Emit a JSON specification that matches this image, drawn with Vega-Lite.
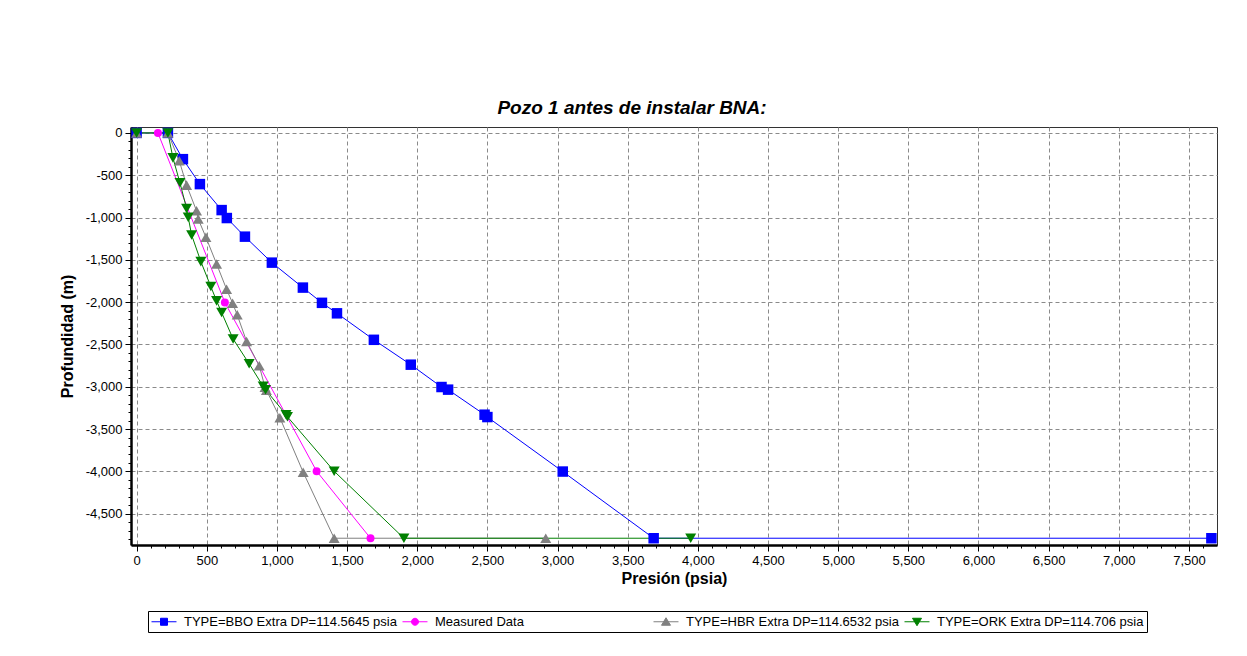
{
  "$schema": "https://vega.github.io/schema/vega-lite/v6.json",
  "width": 1086,
  "height": 418,
  "autosize": {"type": "none"},
  "padding": {"left": 131, "top": 127, "right": 30, "bottom": 111},
  "background": "white",
  "title": {"text": "Pozo 1 antes de instalar BNA:", "anchor": "middle", "dx": -42, "offset": 9, "font": "Liberation Sans", "fontSize": 19, "fontWeight": "bold", "fontStyle": "italic", "color": "black"},
  "config": {
    "view": {"stroke": "#333333", "strokeWidth": 1, "fill": "white"},
    "axis": {"labelFont": "Liberation Sans", "titleFont": "Liberation Sans", "labelColor": "black", "titleColor": "black"}
  },
  "data": {"values": [
    {"s": "TYPE=BBO Extra DP=114.5645 psia", "p": 0, "d": 0},
    {"s": "TYPE=BBO Extra DP=114.5645 psia", "p": 223, "d": 0},
    {"s": "TYPE=BBO Extra DP=114.5645 psia", "p": 330, "d": -310},
    {"s": "TYPE=BBO Extra DP=114.5645 psia", "p": 451, "d": -605},
    {"s": "TYPE=BBO Extra DP=114.5645 psia", "p": 606, "d": -912},
    {"s": "TYPE=BBO Extra DP=114.5645 psia", "p": 643, "d": -1006},
    {"s": "TYPE=BBO Extra DP=114.5645 psia", "p": 772, "d": -1226},
    {"s": "TYPE=BBO Extra DP=114.5645 psia", "p": 964, "d": -1533},
    {"s": "TYPE=BBO Extra DP=114.5645 psia", "p": 1185, "d": -1828},
    {"s": "TYPE=BBO Extra DP=114.5645 psia", "p": 1321, "d": -2008},
    {"s": "TYPE=BBO Extra DP=114.5645 psia", "p": 1428, "d": -2132},
    {"s": "TYPE=BBO Extra DP=114.5645 psia", "p": 1691, "d": -2445},
    {"s": "TYPE=BBO Extra DP=114.5645 psia", "p": 1954, "d": -2739},
    {"s": "TYPE=BBO Extra DP=114.5645 psia", "p": 2173, "d": -3003},
    {"s": "TYPE=BBO Extra DP=114.5645 psia", "p": 2220, "d": -3034},
    {"s": "TYPE=BBO Extra DP=114.5645 psia", "p": 2480, "d": -3330},
    {"s": "TYPE=BBO Extra DP=114.5645 psia", "p": 2500, "d": -3358},
    {"s": "TYPE=BBO Extra DP=114.5645 psia", "p": 3037, "d": -4002},
    {"s": "TYPE=BBO Extra DP=114.5645 psia", "p": 3685, "d": -4790},
    {"s": "TYPE=BBO Extra DP=114.5645 psia", "p": 7660, "d": -4790},
    {"s": "Measured Data", "p": 152, "d": 0},
    {"s": "Measured Data", "p": 629, "d": -2005},
    {"s": "Measured Data", "p": 1283, "d": -3998},
    {"s": "Measured Data", "p": 1667, "d": -4790},
    {"s": "TYPE=HBR Extra DP=114.6532 psia", "p": 0, "d": 0},
    {"s": "TYPE=HBR Extra DP=114.6532 psia", "p": 223, "d": 0},
    {"s": "TYPE=HBR Extra DP=114.6532 psia", "p": 304, "d": -330},
    {"s": "TYPE=HBR Extra DP=114.6532 psia", "p": 356, "d": -617},
    {"s": "TYPE=HBR Extra DP=114.6532 psia", "p": 427, "d": -920},
    {"s": "TYPE=HBR Extra DP=114.6532 psia", "p": 439, "d": -1018},
    {"s": "TYPE=HBR Extra DP=114.6532 psia", "p": 494, "d": -1233},
    {"s": "TYPE=HBR Extra DP=114.6532 psia", "p": 570, "d": -1548},
    {"s": "TYPE=HBR Extra DP=114.6532 psia", "p": 641, "d": -1847},
    {"s": "TYPE=HBR Extra DP=114.6532 psia", "p": 684, "d": -2012},
    {"s": "TYPE=HBR Extra DP=114.6532 psia", "p": 717, "d": -2150},
    {"s": "TYPE=HBR Extra DP=114.6532 psia", "p": 784, "d": -2465},
    {"s": "TYPE=HBR Extra DP=114.6532 psia", "p": 874, "d": -2751},
    {"s": "TYPE=HBR Extra DP=114.6532 psia", "p": 915, "d": -3005},
    {"s": "TYPE=HBR Extra DP=114.6532 psia", "p": 925, "d": -3040},
    {"s": "TYPE=HBR Extra DP=114.6532 psia", "p": 1021, "d": -3365},
    {"s": "TYPE=HBR Extra DP=114.6532 psia", "p": 1187, "d": -4009},
    {"s": "TYPE=HBR Extra DP=114.6532 psia", "p": 1408, "d": -4790},
    {"s": "TYPE=HBR Extra DP=114.6532 psia", "p": 2916, "d": -4790},
    {"s": "TYPE=ORK Extra DP=114.706 psia", "p": 0, "d": 0},
    {"s": "TYPE=ORK Extra DP=114.706 psia", "p": 223, "d": 0},
    {"s": "TYPE=ORK Extra DP=114.706 psia", "p": 259, "d": -295},
    {"s": "TYPE=ORK Extra DP=114.706 psia", "p": 309, "d": -590},
    {"s": "TYPE=ORK Extra DP=114.706 psia", "p": 356, "d": -892},
    {"s": "TYPE=ORK Extra DP=114.706 psia", "p": 368, "d": -998},
    {"s": "TYPE=ORK Extra DP=114.706 psia", "p": 392, "d": -1206},
    {"s": "TYPE=ORK Extra DP=114.706 psia", "p": 458, "d": -1521},
    {"s": "TYPE=ORK Extra DP=114.706 psia", "p": 529, "d": -1816},
    {"s": "TYPE=ORK Extra DP=114.706 psia", "p": 570, "d": -1985},
    {"s": "TYPE=ORK Extra DP=114.706 psia", "p": 606, "d": -2123},
    {"s": "TYPE=ORK Extra DP=114.706 psia", "p": 688, "d": -2436},
    {"s": "TYPE=ORK Extra DP=114.706 psia", "p": 802, "d": -2728},
    {"s": "TYPE=ORK Extra DP=114.706 psia", "p": 902, "d": -2995},
    {"s": "TYPE=ORK Extra DP=114.706 psia", "p": 919, "d": -3034},
    {"s": "TYPE=ORK Extra DP=114.706 psia", "p": 1065, "d": -3330},
    {"s": "TYPE=ORK Extra DP=114.706 psia", "p": 1075, "d": -3355},
    {"s": "TYPE=ORK Extra DP=114.706 psia", "p": 1408, "d": -3998},
    {"s": "TYPE=ORK Extra DP=114.706 psia", "p": 1905, "d": -4790},
    {"s": "TYPE=ORK Extra DP=114.706 psia", "p": 3949, "d": -4790}
  ]},
  "encoding": {
    "x": {"field": "p", "type": "quantitative",
      "scale": {"domain": [-40, 7700], "nice": false, "zero": false},
      "axis": {"title": "Presión (psia)", "titleFontSize": 16, "titleFontWeight": "bold", "titlePadding": 3,
        "labelFontSize": 13, "labelPadding": 3, "labelOverlap": false, "labelFlush": false, "labelBound": false,
        "domainColor": "black", "domainWidth": 2.5, "tickColor": "black",
        "tickSize": {"condition": {"test": "datum.value % 500 === 0", "value": 6}, "value": 3},
        "grid": true, "gridColor": "#8a8a8a", "gridDash": [4, 3], "gridWidth": 1,
        "gridOpacity": {"condition": {"test": "datum.value % 500 === 0", "value": 1}, "value": 0},
        "values": [0,100,200,300,400,500,600,700,800,900,1000,1100,1200,1300,1400,1500,1600,1700,1800,1900,2000,2100,2200,2300,2400,2500,2600,2700,2800,2900,3000,3100,3200,3300,3400,3500,3600,3700,3800,3900,4000,4100,4200,4300,4400,4500,4600,4700,4800,4900,5000,5100,5200,5300,5400,5500,5600,5700,5800,5900,6000,6100,6200,6300,6400,6500,6600,6700,6800,6900,7000,7100,7200,7300,7400,7500,7600],
        "labelExpr": "datum.value % 500 === 0 ? format(datum.value, ',') : ''"
      }
    },
    "y": {"field": "d", "type": "quantitative",
      "scale": {"domain": [-4870, 70], "nice": false, "zero": false},
      "axis": {"title": "Profundidad (m)", "titleFontSize": 16, "titleFontWeight": "bold", "titlePadding": 10,
        "labelFontSize": 13, "labelPadding": 3, "labelOverlap": false, "labelFlush": false, "labelBound": false,
        "domainColor": "black", "domainWidth": 2.5, "tickColor": "black",
        "tickSize": {"condition": {"test": "datum.value % 500 === 0", "value": 6}, "value": 3},
        "grid": true, "gridColor": "#8a8a8a", "gridDash": [4, 3], "gridWidth": 1,
        "gridOpacity": {"condition": {"test": "datum.value % 500 === 0", "value": 1}, "value": 0},
        "values": [0,-100,-200,-300,-400,-500,-600,-700,-800,-900,-1000,-1100,-1200,-1300,-1400,-1500,-1600,-1700,-1800,-1900,-2000,-2100,-2200,-2300,-2400,-2500,-2600,-2700,-2800,-2900,-3000,-3100,-3200,-3300,-3400,-3500,-3600,-3700,-3800,-3900,-4000,-4100,-4200,-4300,-4400,-4500,-4600,-4700,-4800],
        "labelExpr": "datum.value % 500 === 0 ? replace(format(datum.value, ','), '\u2212', '-') : ''"
      }
    }
  },
  "layer": [
    {
      "mark": {"type": "line", "strokeWidth": 1},
      "encoding": {
        "stroke": {"field": "s", "type": "nominal",
          "scale": {"domain": ["TYPE=BBO Extra DP=114.5645 psia", "Measured Data", "TYPE=HBR Extra DP=114.6532 psia", "TYPE=ORK Extra DP=114.706 psia"], "range": ["#0000ff", "#ff00ff", "#808080", "#008000"]},
          "legend": {"orient": "none", "legendX": 17, "legendY": 484, "direction": "horizontal", "columns": 4, "gridAlign": "all", "columnPadding": 3, "title": null,
            "labelLimit": 400, "labelFontSize": 13, "labelFont": "Liberation Sans", "labelColor": "black", "labelOffset": 18,
            "symbolSize": 196, "symbolStrokeWidth": 1, "strokeColor": "black", "fillColor": "white", "padding": 3,
            "encode": {"symbols": {"update": {
              "shape": {"signal": "datum.value === 'Measured Data' ? 'M-1,0H2.571M0.286,0A0.5,0.5 0 1,0 1.286,0A0.5,0.5 0 1,0 0.286,0Z' : indexof(datum.value, 'BBO') >= 0 ? 'M-1,0H2.571M0.286,-0.5H1.286V0.5H0.286Z' : indexof(datum.value, 'HBR') >= 0 ? 'M-1,0H2.571M0.786,-0.571L1.429,0.5L0.143,0.5Z' : 'M-1,0H2.571M0.786,0.571L1.429,-0.5L0.143,-0.5Z'"},
              "fill": {"signal": "indexof(datum.value, 'BBO') >= 0 ? '#0000ff' : datum.value === 'Measured Data' ? '#ff00ff' : indexof(datum.value, 'HBR') >= 0 ? '#808080' : '#008000'"},
              "stroke": {"signal": "indexof(datum.value, 'BBO') >= 0 ? '#0000ff' : datum.value === 'Measured Data' ? '#ff00ff' : indexof(datum.value, 'HBR') >= 0 ? '#808080' : '#008000'"},
              "strokeWidth": {"value": 1},
              "opacity": {"value": 1}
            }}}
          }
        }
      }
    },
    {
      "transform": [{"filter": "datum.s === 'TYPE=BBO Extra DP=114.5645 psia'"}],
      "mark": {"type": "point", "shape": "square", "filled": true, "fill": "#0000ff", "opacity": 1, "strokeWidth": 0, "size": 110}
    },
    {
      "transform": [{"filter": "datum.s === 'Measured Data'"}],
      "mark": {"type": "point", "shape": "circle", "filled": true, "fill": "#ff00ff", "opacity": 1, "strokeWidth": 0, "size": 64}
    },
    {
      "transform": [{"filter": "datum.s === 'TYPE=HBR Extra DP=114.6532 psia'"}],
      "mark": {"type": "point", "shape": "triangle-up", "filled": true, "fill": "#808080", "opacity": 1, "strokeWidth": 0, "size": 121}
    },
    {
      "transform": [{"filter": "datum.s === 'TYPE=ORK Extra DP=114.706 psia'"}],
      "mark": {"type": "point", "shape": "triangle-down", "filled": true, "fill": "#008000", "opacity": 1, "strokeWidth": 0, "size": 121}
    }
  ]
}
